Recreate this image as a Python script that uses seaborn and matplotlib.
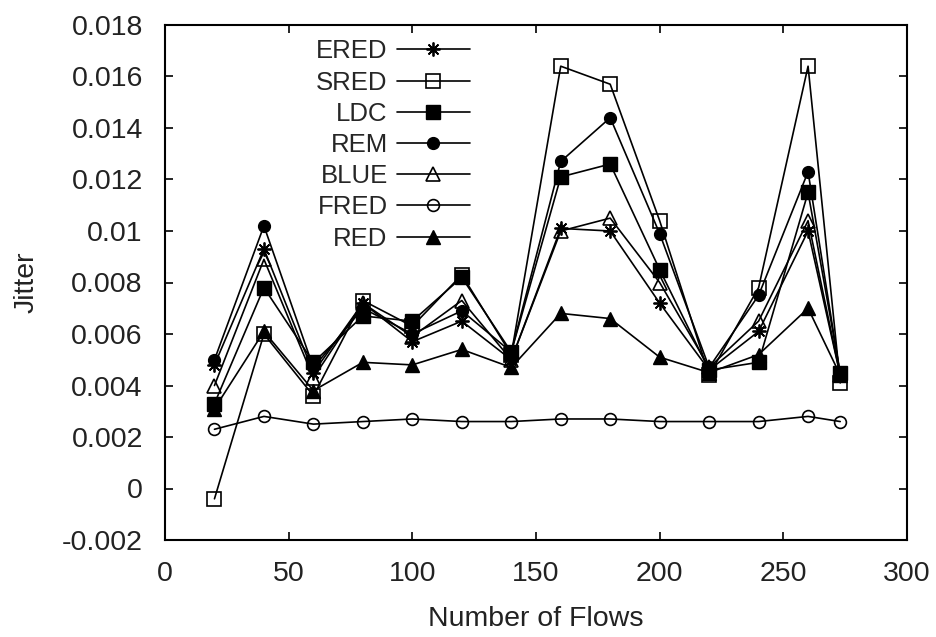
import matplotlib
matplotlib.use("Agg")
import matplotlib.pyplot as plt
import seaborn as sns
import pandas as pd

flows = [20, 40, 60, 80, 100, 120, 140, 160, 180, 200, 220, 240, 260, 273]

ered = [0.0048, 0.0093, 0.0045, 0.0072, 0.0057, 0.0065, 0.0050, 0.0101, 0.0100, 0.0072, 0.0046, 0.0061, 0.0100, 0.0044]
sred = [-0.0004, 0.0060, 0.0036, 0.0073, 0.0063, 0.0083, 0.0052, 0.0164, 0.0157, 0.0104, 0.0044, 0.0078, 0.0164, 0.0041]
ldc = [0.0033, 0.0078, 0.0049, 0.0067, 0.0065, 0.0082, 0.0053, 0.0121, 0.0126, 0.0085, 0.0046, 0.0049, 0.0115, 0.0045]
rem = [0.0050, 0.0102, 0.0047, 0.0070, 0.0060, 0.0069, 0.0053, 0.0127, 0.0144, 0.0099, 0.0047, 0.0075, 0.0123, 0.0044]
blue = [0.0040, 0.0089, 0.0043, 0.0072, 0.0059, 0.0073, 0.0050, 0.0100, 0.0105, 0.0080, 0.0047, 0.0065, 0.0104, 0.0044]
fred = [0.0023, 0.0028, 0.0025, 0.0026, 0.0027, 0.0026, 0.0026, 0.0027, 0.0027, 0.0026, 0.0026, 0.0026, 0.0028, 0.0026]
red = [0.0031, 0.0061, 0.0038, 0.0049, 0.0048, 0.0054, 0.0047, 0.0068, 0.0066, 0.0051, 0.0045, 0.0052, 0.0070, 0.0044]

series_names = ["ERED", "SRED", "LDC", "REM", "BLUE", "FRED", "RED"]
series_values = [ered, sred, ldc, rem, blue, fred, red]

x_ticks = [0, 50, 100, 150, 200, 250, 300]
x_tick_labels = ["0", "50", "100", "150", "200", "250", "300"]
y_ticks = [-0.002, 0, 0.002, 0.004, 0.006, 0.008, 0.010, 0.012, 0.014, 0.016, 0.018]
y_tick_labels = ["-0.002", "0", "0.002", "0.004", "0.006", "0.008", "0.01",
                 "0.012", "0.014", "0.016", "0.018"]

sns.set_style("ticks")
plt.rcParams["font.family"] = ["Liberation Sans", "DejaVu Sans"]

styles = {
    "ERED": dict(marker=(8, 2, 0), markerfacecolor="black", markersize=10, markeredgewidth=1.3),
    "SRED": dict(marker="s", markerfacecolor="none", markersize=9.5, markeredgewidth=1.2),
    "LDC": dict(marker="s", markerfacecolor="black", markersize=9.5, markeredgewidth=1.0),
    "REM": dict(marker="o", markerfacecolor="black", markersize=8.5, markeredgewidth=1.0),
    "BLUE": dict(marker="^", markerfacecolor="none", markersize=10.5, markeredgewidth=1.2),
    "FRED": dict(marker="o", markerfacecolor="none", markersize=8.5, markeredgewidth=1.2),
    "RED": dict(marker="^", markerfacecolor="black", markersize=10.5, markeredgewidth=1.0),
}

df = pd.DataFrame({
    "flows": flows * len(series_names),
    "jitter": sum(series_values, []),
    "scheme": [n for n in series_names for _ in flows],
})

fig = plt.figure(figsize=(9.36, 6.37), dpi=100)
ax = fig.add_axes([165 / 936, 1 - 540 / 637, (907 - 165) / 936, (540 - 25) / 637])

for name in series_names:
    sub = df[df["scheme"] == name]
    sns.lineplot(data=sub, x="flows", y="jitter", ax=ax, color="black",
                 linewidth=1.2, markeredgecolor="black", label=name,
                 estimator=None, sort=False, **styles[name])

ax.set_xlim(0, 300)
ax.set_ylim(-0.002, 0.018)
ax.set_xticks(x_ticks)
ax.set_xticklabels(x_tick_labels)
ax.set_yticks(y_ticks)
ax.set_yticklabels(y_tick_labels)
ax.tick_params(axis="both", direction="in", length=6, width=1.2, labelsize=20.5,
               top=True, right=True, colors="black", labelcolor="#222222")
ax.tick_params(axis="y", pad=16)
ax.tick_params(axis="x", pad=15)
for sp in ax.spines.values():
    sp.set_visible(True)
    sp.set_linewidth(1.5)
    sp.set_color("black")

ax.set_xlabel("Number of Flows", fontsize=20.5, color="#222222", labelpad=14)
ax.set_ylabel("Jitter", fontsize=20.5, color="#222222", labelpad=16)

ax.legend(loc="upper right", bbox_to_anchor=(0.411, 0.972), frameon=False,
          markerfirst=False, fontsize=18.5, handlelength=2.85, handletextpad=0.35,
          labelspacing=0.28, borderaxespad=0, borderpad=0)

fig.savefig("out.png", dpi=100)
